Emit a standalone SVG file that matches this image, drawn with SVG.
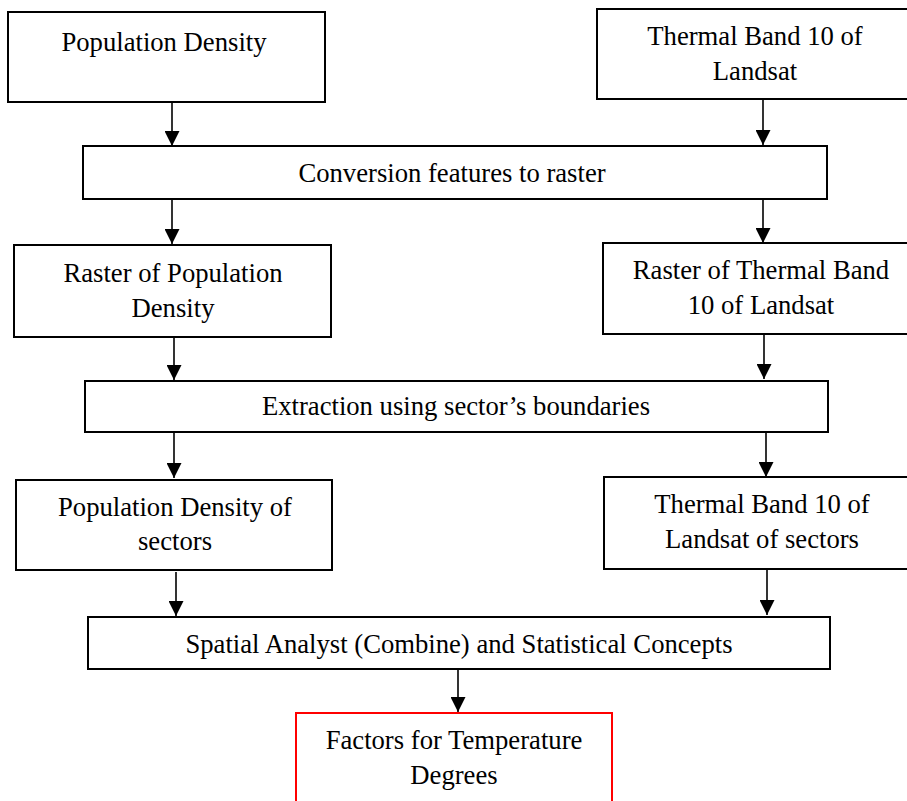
<svg xmlns="http://www.w3.org/2000/svg" width="907" height="801" viewBox="0 0 907 801">
<defs>
<style>
.box{fill:#fff;stroke:#000;stroke-width:2}
.red{fill:#fff;stroke:#ff0000;stroke-width:2}
.t{font-family:'Liberation Serif','Times New Roman',Tinos,'DejaVu Serif',serif;font-size:26.67px;fill:#000;text-anchor:middle}
.c{stroke:#000;stroke-width:1.6;fill:none}
</style>
<marker id="ah" markerUnits="userSpaceOnUse" markerWidth="16" markerHeight="15" refX="15" refY="7.5" orient="auto">
<path d="M0,0 L15,7.5 L0,15 Z" fill="#000"/>
</marker>
</defs>
<rect width="907" height="801" fill="#fff"/>
<g id="connectors">
<line class="c" x1="172" y1="102" x2="172" y2="146" marker-end="url(#ah)"/>
<line class="c" x1="763" y1="99" x2="763" y2="145" marker-end="url(#ah)"/>
<line class="c" x1="172" y1="199" x2="172" y2="244" marker-end="url(#ah)"/>
<line class="c" x1="763" y1="199" x2="763" y2="243" marker-end="url(#ah)"/>
<line class="c" x1="174" y1="337" x2="174" y2="380" marker-end="url(#ah)"/>
<line class="c" x1="764" y1="334" x2="764" y2="379" marker-end="url(#ah)"/>
<line class="c" x1="174" y1="432" x2="174" y2="478" marker-end="url(#ah)"/>
<line class="c" x1="766" y1="432" x2="766" y2="477" marker-end="url(#ah)"/>
<line class="c" x1="176" y1="572" x2="176" y2="616" marker-end="url(#ah)"/>
<line class="c" x1="767" y1="569" x2="767" y2="615" marker-end="url(#ah)"/>
<line class="c" x1="458" y1="669" x2="458" y2="712" marker-end="url(#ah)"/>
</g>
<g id="n1">
<rect class="box" x="8" y="12" width="317" height="90"/>
<text class="t" x="164" y="51">Population Density</text>
</g>
<g id="n2">
<rect class="box" x="597" y="9" width="320" height="90"/>
<text class="t" x="755" y="45">Thermal Band 10 of</text>
<text class="t" x="755" y="80">Landsat</text>
</g>
<g id="n3">
<rect class="box" x="83" y="146" width="744" height="53"/>
<text class="t" x="452" y="182">Conversion features to raster</text>
</g>
<g id="n4">
<rect class="box" x="14" y="245" width="317" height="92"/>
<text class="t" x="173" y="282">Raster of Population</text>
<text class="t" x="173" y="317">Density</text>
</g>
<g id="n5">
<rect class="box" x="603" y="243" width="314" height="91"/>
<text class="t" x="761" y="279">Raster of Thermal Band</text>
<text class="t" x="761" y="314">10 of Landsat</text>
</g>
<g id="n6">
<rect class="box" x="85" y="381" width="743" height="51"/>
<text class="t" x="456" y="415">Extraction using sector’s boundaries</text>
</g>
<g id="n7">
<rect class="box" x="16" y="480" width="316" height="90"/>
<text class="t" x="175" y="516">Population Density of</text>
<text class="t" x="175" y="550">sectors</text>
</g>
<g id="n8">
<rect class="box" x="604" y="477" width="313" height="92"/>
<text class="t" x="762" y="513">Thermal Band 10 of</text>
<text class="t" x="762" y="548">Landsat of sectors</text>
</g>
<g id="n9">
<rect class="box" x="88" y="617" width="742" height="52"/>
<text class="t" x="459" y="653">Spatial Analyst (Combine) and Statistical Concepts</text>
</g>
<g id="n10">
<rect class="red" x="296" y="713" width="316" height="100"/>
<text class="t" x="454" y="749">Factors for Temperature</text>
<text class="t" x="454" y="784">Degrees</text>
</g>
</svg>
